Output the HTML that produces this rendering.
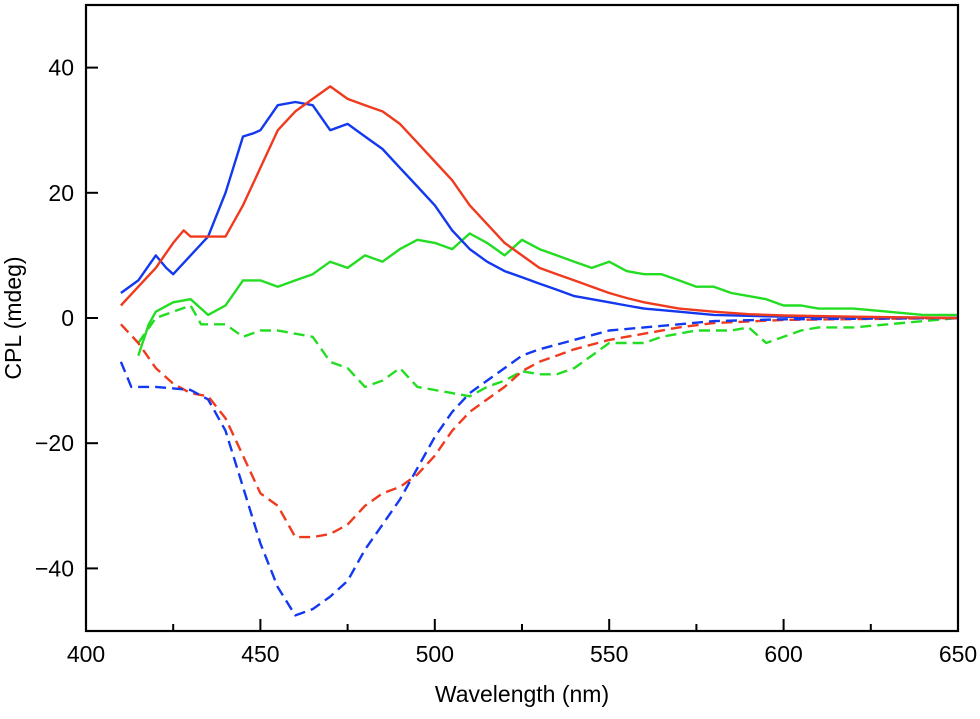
<!DOCTYPE html>
<html><head><meta charset="utf-8"><style>
body{margin:0;background:#fff;}
svg{display:block;font-family:"Liberation Sans",Arial,sans-serif;}
</style></head><body>
<svg id="chart" width="980" height="719" viewBox="0 0 980 719" xmlns="http://www.w3.org/2000/svg">
<g id="series"></g>
<rect x="86" y="5" width="872" height="626" fill="none" stroke="#000" stroke-width="2.2"/>
<g id="axes"></g>
<text x="522" y="702" font-size="23" text-anchor="middle">Wavelength (nm)</text>
<text transform="translate(21,318) rotate(-90)" font-size="23" text-anchor="middle">CPL (mdeg)</text>
</svg>
<script>
const xTicks=[400,450,500,550,600,650];
const xMinor=[425,475,525,575,625];
const yTicks=[40,20,0,-20,-40];
const redSolidX=[410,415,420,425,428,430,435,440,445,450,455,460,465,470,475,480,485,490,495,500,505,510,515,520,525,530,535,540,545,550,555,560,570,580,590,600,620,650];
const redSolidY=[2,5,8,12,14,13,13,13,18,24,30,33,35,37,35,34,33,31,28,25,22,18,15,12,10,8,7,6,5,4,3.2,2.5,1.5,1,0.6,0.4,0.2,0];
const blueSolidX=[410,415,420,423,425,430,435,440,445,448,450,455,460,465,470,475,480,485,490,495,500,505,510,515,520,525,530,535,540,545,550,555,560,570,580,600,650];
const blueSolidY=[4,6,10,8,7,10,13,20,29,29.5,30,34,34.5,34,30,31,29,27,24,21,18,14,11,9,7.5,6.5,5.5,4.5,3.5,3,2.5,2,1.5,1,0.5,0.2,0];
const greenSolidX=[415,418,420,425,430,435,440,445,450,455,460,465,470,475,480,485,490,495,500,505,510,515,520,525,530,535,540,545,550,555,560,565,570,575,580,585,590,595,600,605,610,620,630,640,650];
const greenSolidY=[-6,-1,1,2.5,3,0.5,2,6,6,5,6,7,9,8,10,9,11,12.5,12,11,13.5,12,10,12.5,11,10,9,8,9,7.5,7,7,6,5,5,4,3.5,3,2,2,1.5,1.5,1,0.5,0.5];
const redDashX=[410,415,420,425,430,435,440,445,450,455,460,465,470,475,480,485,490,495,500,505,510,515,520,525,530,535,540,550,560,570,580,600,650];
const redDashY=[-1,-4,-8,-10.5,-12,-12.5,-16,-22,-28,-30,-35,-35,-34.5,-33,-30,-28,-27,-25,-22,-18,-15,-13,-11,-8.5,-7,-6,-5,-3.5,-2.5,-1.5,-0.8,-0.3,0];
const blueDashX=[410,413,420,430,435,440,445,450,455,460,465,470,475,480,485,490,495,500,505,510,515,520,525,530,540,550,560,570,580,600,650];
const blueDashY=[-7,-11,-11,-11.5,-13,-18,-27,-36,-43,-47.5,-46.5,-44.5,-42,-37,-33,-29,-24,-19,-15,-12,-10,-8,-6,-5,-3.5,-2,-1.5,-1,-0.5,-0.2,0];
const greenDashX=[415,420,425,430,433,435,440,445,450,455,460,465,470,475,480,485,490,495,500,505,510,515,520,525,530,535,540,545,550,555,560,565,570,575,580,585,590,595,600,605,610,620,630,640,650];
const greenDashY=[-4,0,1,2,-1,-1,-1,-3,-2,-2,-2.5,-3,-7,-8,-11,-10,-8,-11,-11.5,-12,-12.5,-11,-10,-8.5,-9,-9,-8,-6,-4,-4,-4,-3,-2.5,-2,-2,-2,-1.5,-4,-3,-2,-1.5,-1.5,-1,-0.5,0];

const NS="http://www.w3.org/2000/svg";
const X0=86,X1=958,Y0=631,Y1=5;
function sx(v){return X0+(v-400)/(650-400)*(X1-X0);}
function sy(v){return Y0-(v+50)/100*(Y0-Y1);}
const axes=document.getElementById('axes');
function mk(tag,attrs,parent){const e=document.createElementNS(NS,tag);for(const k in attrs)e.setAttribute(k,attrs[k]);parent.appendChild(e);return e;}
xTicks.forEach(v=>{
  const t=mk('line',{x1:sx(v),x2:sx(v),y1:Y0,y2:Y0-12,stroke:'#000','stroke-width':2},axes);
  
  
  const l=mk('text',{x:sx(v),y:662,'font-size':23,'text-anchor':'middle'},axes);
  l.textContent=v;
  
  
});
xMinor.forEach(v=>{
  const t=mk('line',{x1:sx(v),x2:sx(v),y1:Y0,y2:Y0-7,stroke:'#000','stroke-width':2},axes);
  
  
});
yTicks.forEach(v=>{
  const t=mk('line',{x1:X0,x2:X0+12,y1:sy(v),y2:sy(v),stroke:'#000','stroke-width':2},axes);
  
  
  const l=mk('text',{x:74,y:sy(v)+8,'font-size':23,'text-anchor':'end'},axes);
  l.textContent=v<0?'\u2212'+Math.abs(v):v;
  
  
});
const sg=document.getElementById('series');
function line(xs,ys,color,dash,name){
  const d=xs.map((x,i)=>(i?'L':'M')+sx(x).toFixed(1)+','+sy(ys[i]).toFixed(1)).join(' ');
  const p=mk('path',{d:d,fill:'none',stroke:color,'stroke-width':2.4,'stroke-linejoin':'round'},sg);
  if(dash)p.setAttribute('stroke-dasharray','11,6');
  
  
}
line(greenSolidX,greenSolidY,'#22dd22',false,'green-solid-line');
line(greenDashX,greenDashY,'#22dd22',true,'green-dashed-line');
line(redDashX,redDashY,'#f03a1e',true,'red-dashed-line');
line(blueDashX,blueDashY,'#1238f0',true,'blue-dashed-line');
line(blueSolidX,blueSolidY,'#1238f0',false,'blue-solid-line');
line(redSolidX,redSolidY,'#f03a1e',false,'red-solid-line');
</script>
</body></html>
